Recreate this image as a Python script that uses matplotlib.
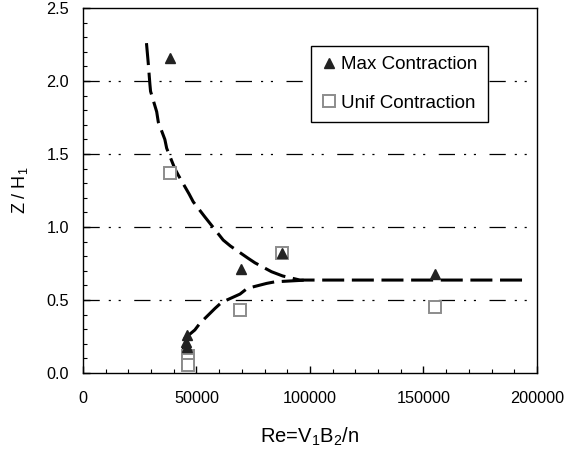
import numpy as np
import matplotlib.pyplot as plt

plt.rcParams['font.family'] = ['Liberation Sans', 'DejaVu Sans']
plt.rcParams['mathtext.fontset'] = 'custom'
plt.rcParams['mathtext.rm'] = 'Liberation Sans'
plt.rcParams['mathtext.it'] = 'Liberation Sans'

# Max Contraction (triangles)
max_re = [38300, 45700, 45500, 45800, 69500, 87500, 155000]
max_z = [2.16, 0.26, 0.215, 0.18, 0.71, 0.82, 0.68]

# Unif Contraction (squares)
unif_re = [38300, 46400, 46400, 46400, 69200, 87500, 155000]
unif_z = [1.37, 0.12, 0.09, 0.055, 0.43, 0.82, 0.45]

# fitted curves (dashed)
up_re = [28000, 28800, 29500, 29800, 32500, 33200, 36100, 36900, 40500,
         42000, 46800, 48600, 53700, 56000, 61800, 65000, 72800, 75800,
         83100, 88000, 95600, 194000]
up_z = [2.26, 2.12, 1.98, 1.93, 1.79, 1.72, 1.6, 1.54, 1.40,
        1.356, 1.226, 1.173, 1.07, 1.025, 0.911, 0.87, 0.786, 0.755,
        0.694, 0.665, 0.637, 0.637]
low_re = [43900, 43900, 44900, 49300, 51500, 58200, 61100, 69200, 72400,
          80900, 84600, 98500]
low_z = [0.02, 0.123, 0.238, 0.295, 0.34, 0.443, 0.484, 0.541, 0.58,
         0.614, 0.625, 0.637]

fig = plt.figure(figsize=(5.64, 4.5), dpi=100)
ax = fig.add_axes([0.147, 0.171, 0.805, 0.811])

for yv in [0.5, 1.0, 1.5, 2.0]:
    ax.axhline(yv, color='black', lw=0.9,
               linestyle=(0, (13, 7.2, 1.7, 6.2, 1.7, 10.8)), zorder=1)

ax.plot(up_re, up_z, color='black', lw=2.2, dashes=(7.2, 2.5), zorder=2)
ax.plot(low_re, low_z, color='black', lw=2.2, dashes=(7.2, 2.5), zorder=2)

ax.plot(unif_re, unif_z, linestyle='none', marker='s', ms=8,
        mfc='white', mec='#8c8c8c', mew=1.4, zorder=3,
        label='Unif Contraction')
ax.plot(max_re, max_z, linestyle='none', marker='^', ms=7,
        color='#222222', zorder=4, label='Max Contraction')

handles, labels = ax.get_legend_handles_labels()
leg = ax.legend(handles[::-1], labels[::-1], loc='upper left',
                bbox_to_anchor=(0.502, 0.896), fontsize=13.5,
                frameon=True, fancybox=False, edgecolor='black',
                framealpha=1, labelspacing=1.12, handlelength=0.8,
                handletextpad=0.25, borderpad=0.55, borderaxespad=0)
leg.get_frame().set_linewidth(1.0)

ax.set_xlim(0, 200000)
ax.set_ylim(0, 2.5)
ax.set_xticks([0, 50000, 100000, 150000, 200000])
ax.set_xticks(np.arange(0, 200001, 10000), minor=True)
ax.set_yticks([0.0, 0.5, 1.0, 1.5, 2.0, 2.5])
ax.set_yticks(np.arange(0, 2.51, 0.1), minor=True)
ax.set_yticklabels(['0.0', '0.5', '1.0', '1.5', '2.0', '2.5'])
ax.tick_params(which='major', direction='in', length=5, width=1,
               labelsize=11.7)
ax.tick_params(axis='x', which='major', pad=13)
ax.tick_params(axis='y', which='major', pad=10)
ax.tick_params(which='minor', direction='in', length=3, width=0.8)
for sp in ax.spines.values():
    sp.set_linewidth(1.0)

ax.set_xlabel('Re=V$_1$B$_2$/n', fontsize=14.5, labelpad=14)
ax.set_ylabel('Z / H$_1$', fontsize=13, labelpad=12)

fig.savefig('out.png', dpi=100)
